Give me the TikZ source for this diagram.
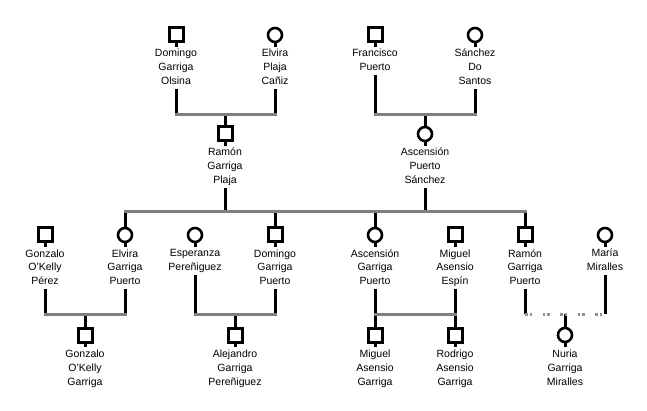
\documentclass[tikz,border=0pt]{standalone}
\usepackage{fontspec}
\setmainfont{Liberation Sans}
\begin{document}
\begin{tikzpicture}[x=1pt,y=-1pt,
 male/.style={draw,rectangle,line width=3pt,minimum size=14pt,inner sep=0pt},
 female/.style={draw,circle,line width=2.6pt,minimum size=14pt,inner sep=0pt},
 lbl/.style={anchor=north,align=center,inner sep=0pt,font=\fontsize{10.5}{14}\selectfont},
 vline/.style={line width=3pt,black},
 bar/.style={line width=3pt,gray,line cap=rect},
 dbar/.style={line width=3pt,gray!85,dash pattern=on 2.5pt off 2pt on 2.5pt off 10.5pt}]
\useasboundingbox (0,0) rectangle (647,411);
% bar levels
\coordinate (b1) at (0,115);
\coordinate (b2) at (0,212);
\coordinate (b3) at (0,314);
% generation 1
\node[male]   (dgo) at (176,35) {};
\node[lbl]    (tdgo) at (176,47) {\strut Domingo\\\strut Garriga\\\strut Olsina};
\node[female] (elv) at (275,35) {};
\node[lbl]    (telv) at (275,47) {\strut Elvira\\\strut Plaja\\\strut Cañiz};
\node[male]   (fra) at (375,35) {};
\node[lbl]    (tfra) at (375,47) {\strut Francisco\\\strut Puerto};
\node[female] (san) at (475,35) {};
\node[lbl]    (tsan) at (475,47) {\strut Sánchez\\\strut Do\\\strut Santos};
% generation 2
\node[male]   (ram) at (225,134) {};
\node[lbl]    (tram) at (225,146) {\strut Ramón\\\strut Garriga\\\strut Plaja};
\node[female] (asc) at (425,134) {};
\node[lbl]    (tasc) at (425,146) {\strut Ascensión\\\strut Puerto\\\strut Sánchez};
% generation 3
\node[male]   (gop) at (45,235) {};
\node[lbl]    (tgop) at (45,247) {\strut Gonzalo\\\strut O'Kelly\\\strut Pérez};
\node[female] (egp) at (125,235) {};
\node[lbl]    (tegp) at (125,247) {\strut Elvira\\\strut Garriga\\\strut Puerto};
\node[female] (esp) at (195,235) {};
\node[lbl]    (tesp) at (195,247) {\strut Esperanza\\\strut Pereñiguez};
\node[male]   (dgp) at (275,235) {};
\node[lbl]    (tdgp) at (275,247) {\strut Domingo\\\strut Garriga\\\strut Puerto};
\node[female] (agp) at (375,235) {};
\node[lbl]    (tagp) at (375,247) {\strut Ascensión\\\strut Garriga\\\strut Puerto};
\node[male]   (mae) at (455,235) {};
\node[lbl]    (tmae) at (455,247) {\strut Miguel\\\strut Asensio\\\strut Espín};
\node[male]   (rgp) at (525,235) {};
\node[lbl]    (trgp) at (525,247) {\strut Ramón\\\strut Garriga\\\strut Puerto};
\node[female] (mmi) at (605,235) {};
\node[lbl]    (tmmi) at (605,247) {\strut María\\\strut Miralles};
% generation 4
\node[male]   (gog) at (85,335) {};
\node[lbl]    (tgog) at (85,347) {\strut Gonzalo\\\strut O'Kelly\\\strut Garriga};
\node[male]   (agpe) at (235,335) {};
\node[lbl]    (tagpe) at (235,347) {\strut Alejandro\\\strut Garriga\\\strut Pereñiguez};
\node[male]   (mag) at (375,335) {};
\node[lbl]    (tmag) at (375,347) {\strut Miguel\\\strut Asensio\\\strut Garriga};
\node[male]   (rag) at (455,335) {};
\node[lbl]    (trag) at (455,347) {\strut Rodrigo\\\strut Asensio\\\strut Garriga};
\node[female] (ngm) at (565,335) {};
\node[lbl]    (tngm) at (565,347) {\strut Nuria\\\strut Garriga\\\strut Miralles};
% stems symbol -> label
\foreach \s in {dgo,elv,fra,san,ram,asc,gop,egp,esp,dgp,agp,mae,rgp,mmi,gog,agpe,mag,rag,ngm}
  \draw[vline] (\s.south) -- (t\s.north);
% parents down to bars
\foreach \s in {dgo,elv,fra,san}
  \draw[vline] (t\s.south) -- (t\s.south |- b1);
\foreach \s in {ram,asc}
  \draw[vline] (t\s.south) -- (t\s.south |- b2);
\foreach \s in {gop,egp,esp,dgp,agp,mae,rgp,mmi}
  \draw[vline] (t\s.south) -- (t\s.south |- b3);
% bars to children
\foreach \s in {ram,asc}
  \draw[vline] (\s.north |- b1) -- (\s.north);
\foreach \s in {egp,dgp,agp,rgp}
  \draw[vline] (\s.north |- b2) -- (\s.north);
\foreach \s in {gog,agpe,mag,rag,ngm}
  \draw[vline] (\s.north |- b3) -- (\s.north);
% horizontal bars
\draw[bar] (tdgo.south |- b1) -- (telv.south |- b1);
\draw[bar] (tfra.south |- b1) -- (tsan.south |- b1);
\draw[bar] (egp.north |- b2) -- (rgp.north |- b2);
\draw[bar] (tgop.south |- b3) -- (tegp.south |- b3);
\draw[bar] (tesp.south |- b3) -- (tdgp.south |- b3);
\draw[bar] (tagp.south |- b3) -- (tmae.south |- b3);
\draw[dbar] (trgp.south |- b3) -- (tmmi.south |- b3);
\end{tikzpicture}
\end{document}
